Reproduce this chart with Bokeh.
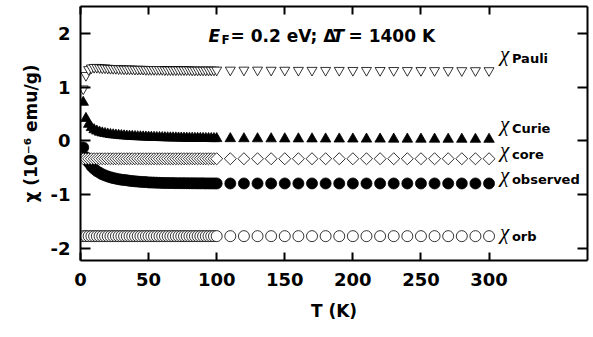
from bokeh.plotting import figure
from bokeh.models import ColumnDataSource, Label, LinearAxis, FixedTicker, Range1d
from bokeh.core.properties import value
from bokeh.embed import file_html
from bokeh.resources import INLINE
import math

# ---------------- data ----------------
T_dense = [2, 4, 6, 8, 10, 12, 14, 16, 18, 20, 22, 24, 26, 28, 30, 32, 34, 36, 38, 40,
           42, 44, 46, 48, 50, 52, 54, 56, 58, 60, 62, 64, 66, 68, 70, 72, 74, 76, 78, 80,
           82, 84, 86, 88, 90, 92, 94, 96, 98, 100]
T_sparse = [110, 120, 130, 140, 150, 160, 170, 180, 190, 200,
            210, 220, 230, 240, 250, 260, 270, 280, 290, 300]

pauli_dense = [0.97, 1.22, 1.33, 1.36, 1.37, 1.37, 1.365, 1.36, 1.36, 1.355,
               1.35, 1.35, 1.35, 1.345, 1.345, 1.34, 1.34, 1.34, 1.34, 1.335,
               1.335, 1.335, 1.335, 1.33, 1.33, 1.33, 1.33, 1.33, 1.33, 1.33,
               1.325, 1.325, 1.325, 1.325, 1.325, 1.325, 1.325, 1.325, 1.325, 1.325,
               1.32, 1.32, 1.32, 1.32, 1.32, 1.32, 1.32, 1.32, 1.32, 1.32]
pauli_sparse = [1.32, 1.32, 1.32, 1.318, 1.318, 1.316, 1.316, 1.315, 1.315, 1.314,
                1.314, 1.313, 1.313, 1.312, 1.312, 1.311, 1.311, 1.31, 1.31, 1.31]

curie_dense = [0.72, 0.42, 0.31, 0.25, 0.21, 0.185, 0.165, 0.15, 0.14, 0.13,
               0.122, 0.115, 0.11, 0.105, 0.10, 0.096, 0.092, 0.089, 0.086, 0.083,
               0.080, 0.078, 0.076, 0.074, 0.072, 0.070, 0.068, 0.066, 0.065, 0.063,
               0.062, 0.060, 0.059, 0.058, 0.057, 0.056, 0.055, 0.054, 0.053, 0.052,
               0.051, 0.050, 0.050, 0.049, 0.048, 0.047, 0.047, 0.046, 0.045, 0.045]
curie_sparse = [0.044, 0.043, 0.042, 0.041, 0.040, 0.040, 0.039, 0.038, 0.038, 0.037,
                0.036, 0.036, 0.035, 0.035, 0.034, 0.034, 0.033, 0.033, 0.032, 0.032]

obs_dense = [-0.12, -0.30, -0.40, -0.47, -0.52, -0.56, -0.59, -0.62, -0.64, -0.66,
             -0.675, -0.69, -0.70, -0.71, -0.72, -0.725, -0.73, -0.74, -0.745, -0.75,
             -0.755, -0.76, -0.762, -0.765, -0.77, -0.772, -0.774, -0.776, -0.778, -0.78,
             -0.781, -0.782, -0.782, -0.783, -0.784, -0.784, -0.785, -0.785, -0.786, -0.786,
             -0.787, -0.787, -0.788, -0.788, -0.788, -0.789, -0.789, -0.789, -0.79, -0.79]
obs_sparse = [-0.79, -0.79, -0.79, -0.79, -0.79, -0.79, -0.79, -0.79, -0.79, -0.79,
              -0.79, -0.79, -0.79, -0.79, -0.79, -0.79, -0.79, -0.79, -0.79, -0.79]

core_dense = [-0.33, -0.33, -0.33, -0.33, -0.33, -0.33, -0.33, -0.33, -0.33, -0.33,
              -0.33, -0.33, -0.33, -0.33, -0.33, -0.33, -0.33, -0.33, -0.33, -0.33,
              -0.33, -0.33, -0.33, -0.33, -0.33, -0.33, -0.33, -0.33, -0.33, -0.33,
              -0.33, -0.33, -0.33, -0.33, -0.33, -0.33, -0.33, -0.33, -0.33, -0.33,
              -0.33, -0.33, -0.33, -0.33, -0.33, -0.33, -0.33, -0.33, -0.33, -0.33]
core_sparse = [-0.33, -0.33, -0.33, -0.33, -0.33, -0.33, -0.33, -0.33, -0.33, -0.33,
               -0.33, -0.33, -0.33, -0.33, -0.33, -0.33, -0.33, -0.33, -0.33, -0.33]

orb_dense = [-1.77, -1.77, -1.77, -1.77, -1.77, -1.77, -1.77, -1.77, -1.77, -1.77,
             -1.77, -1.77, -1.77, -1.77, -1.77, -1.77, -1.77, -1.77, -1.77, -1.77,
             -1.77, -1.77, -1.77, -1.77, -1.77, -1.77, -1.77, -1.77, -1.77, -1.77,
             -1.77, -1.77, -1.77, -1.77, -1.77, -1.77, -1.77, -1.77, -1.77, -1.77,
             -1.77, -1.77, -1.77, -1.77, -1.77, -1.77, -1.77, -1.77, -1.77, -1.77]
orb_sparse = [-1.77, -1.77, -1.77, -1.77, -1.77, -1.77, -1.77, -1.77, -1.77, -1.77,
              -1.77, -1.77, -1.77, -1.77, -1.77, -1.77, -1.77, -1.77, -1.77, -1.77]

x_ticks = [0, 50, 100, 150, 200, 250, 300]
y_ticks = [-2, -1, 0, 1, 2]

series_names = ["Pauli", "Curie", "core", "observed", "orb"]
label_y = [1.62, 0.32, -0.16, -0.63, -1.69]
label_x = 308

x_label = "T (K)"
y_label = "χ (10⁻⁶ emu/g)"

# ---------------- figure ----------------
SANS = "DejaVu Sans"
SERIF = "Liberation Serif"

p = figure(width=593, height=337, output_backend="svg", toolbar_location=None,
           x_range=Range1d(0, 372.3), y_range=Range1d(-2.223, 2.502),
           min_border_left=80, min_border_right=6, min_border_top=6, min_border_bottom=77)
p.grid.visible = False
p.outline_line_color = None
p.background_fill_color = "white"
p.border_fill_color = "white"


def style_axis(ax, ticks, tick_len, show_labels):
    ax.ticker = FixedTicker(ticks=ticks)
    ax.axis_line_width = 2
    ax.axis_line_color = "black"
    ax.major_tick_line_width = 2
    ax.major_tick_in = tick_len
    ax.major_tick_out = 0
    ax.minor_tick_line_color = None
    if show_labels:
        ax.major_label_text_font = SANS
        ax.major_label_text_font_style = "bold"
        ax.major_label_text_font_size = "18px"
        ax.major_label_text_color = "black"
        ax.axis_label_text_font = SANS
        ax.axis_label_text_font_style = "bold"
        ax.axis_label_text_font_size = "17px"
        ax.axis_label_text_color = "black"
    else:
        ax.major_label_overrides = {t: "" for t in ticks}
        ax.major_label_text_font_size = "1px"
        ax.major_label_standoff = 0


style_axis(p.xaxis[0], x_ticks, 8, True)
p.xaxis[0].major_label_standoff = 12
p.xaxis[0].axis_label = x_label
p.xaxis[0].axis_label_standoff = 12
style_axis(p.yaxis[0], y_ticks, 10, True)
p.yaxis[0].major_label_standoff = 10
p.yaxis[0].major_label_overrides = {-2: "-2", -1: "-1", 0: "0", 1: "1", 2: "2"}
p.yaxis[0].axis_label = y_label
p.yaxis[0].axis_label_text_font_size = "17px"
p.yaxis[0].axis_label_standoff = 7

top = LinearAxis()
style_axis(top, x_ticks, 8, False)
p.add_layout(top, "above")
right = LinearAxis()
style_axis(right, y_ticks, 10, False)
p.add_layout(right, "right")

T_all = T_dense + T_sparse
lw = 0.8

# observed: filled circles
p.scatter(T_all, obs_dense + obs_sparse, marker="circle", size=11,
          fill_color="black", line_color="black", line_width=lw)
# Curie: filled triangles
p.scatter(T_all, curie_dense + curie_sparse, marker="triangle", size=10.5,
          fill_color="black", line_color="black", line_width=lw)
# core: open diamonds (rotated squares)
p.scatter(T_all, core_dense + core_sparse, marker="square", size=8.5, angle=math.pi / 4,
          fill_color="white", line_color="black", line_width=lw)
# Pauli: open inverted triangles
p.scatter(T_all, pauli_dense + pauli_sparse, marker="inverted_triangle", size=10,
          fill_color="white", line_color="black", line_width=lw)
# orb: open circles
p.scatter(T_all, orb_dense + orb_sparse, marker="circle", size=11,
          fill_color="white", line_color="black", line_width=lw)

# series labels
lab_src = ColumnDataSource(dict(x=[label_x] * len(series_names), y=label_y,
                                chi=["χ"] * len(series_names), sub=series_names))
p.text(x="x", y="y", text="chi", source=lab_src, text_font=value(SERIF),
       text_font_style="italic", text_font_size="21px", text_align="left",
       text_baseline="middle", text_color="black")
p.text(x="x", y="y", text="sub", source=lab_src, text_font=value(SANS),
       text_font_style="bold", text_font_size="13px", text_align="left",
       text_baseline="middle", x_offset=12, y_offset=5, text_color="black")


def add_label(txt, x, y, size, font=SANS, style="bold"):
    p.add_layout(Label(x=x, y=y, x_units="screen", y_units="screen", text=txt,
                       text_font=font, text_font_style=style, text_font_size=size,
                       text_align="left", text_baseline="alphabetic",
                       text_color="black"))


# title inside plot: E_F = 0.2 eV; ΔT = 1400 K
add_label("E", 128, 225, "17px", style="bold italic")
add_label("F", 141, 221, "12px")
add_label("= 0.2 eV; Δ", 150, 225, "17px")
add_label("T", 252, 225, "17px", style="bold italic")
add_label("= 1400 K", 268, 225, "17px")

open("out.html", "w").write(file_html(p, INLINE))
